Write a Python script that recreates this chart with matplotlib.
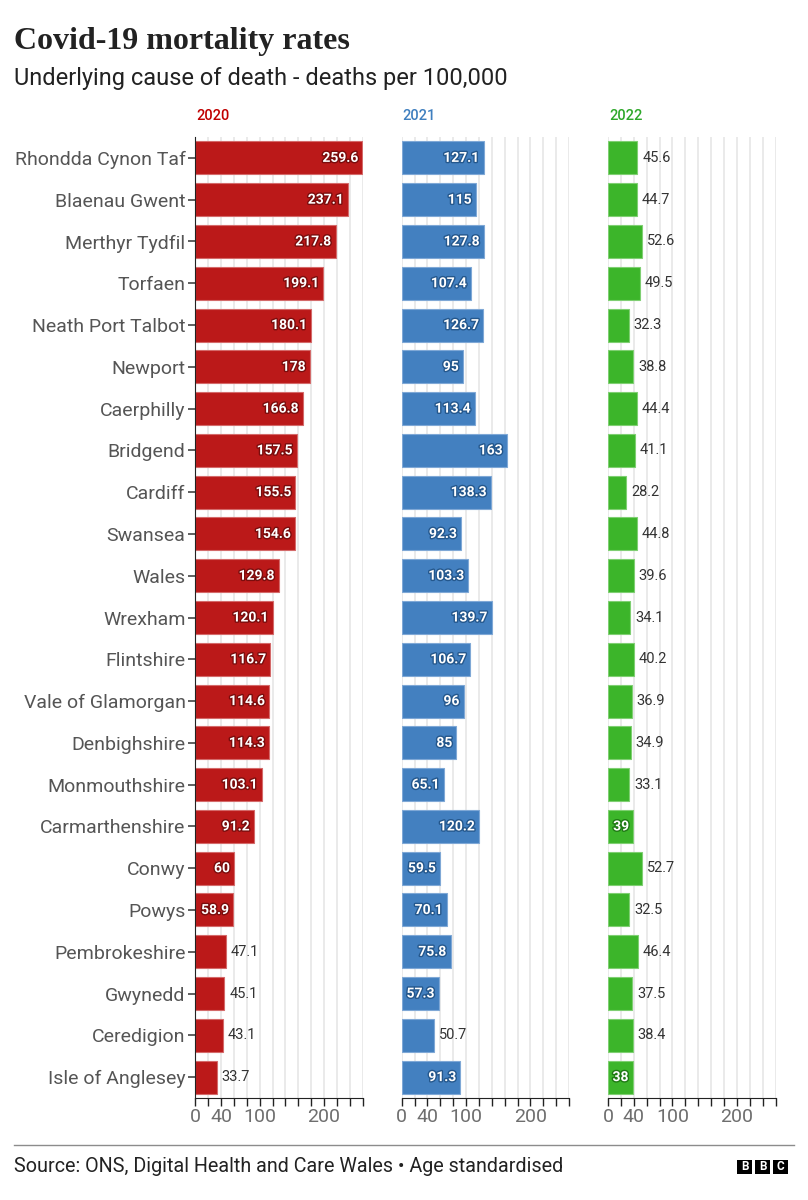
import matplotlib.pyplot as plt
import matplotlib.patheffects as pe
from matplotlib.patches import Rectangle
from matplotlib.lines import Line2D

# data
areas = ['Rhondda Cynon Taf', 'Blaenau Gwent', 'Merthyr Tydfil', 'Torfaen',
         'Neath Port Talbot', 'Newport', 'Caerphilly', 'Bridgend', 'Cardiff',
         'Swansea', 'Wales', 'Wrexham', 'Flintshire', 'Vale of Glamorgan',
         'Denbighshire', 'Monmouthshire', 'Carmarthenshire', 'Conwy', 'Powys',
         'Pembrokeshire', 'Gwynedd', 'Ceredigion', 'Isle of Anglesey']
rate_2020 = [259.6, 237.1, 217.8, 199.1, 180.1, 178, 166.8, 157.5, 155.5, 154.6,
             129.8, 120.1, 116.7, 114.6, 114.3, 103.1, 91.2, 60, 58.9, 47.1,
             45.1, 43.1, 33.7]
rate_2021 = [127.1, 115, 127.8, 107.4, 126.7, 95, 113.4, 163, 138.3, 92.3,
             103.3, 139.7, 106.7, 96, 85, 65.1, 120.2, 59.5, 70.1, 75.8,
             57.3, 50.7, 91.3]
rate_2022 = [45.6, 44.7, 52.6, 49.5, 32.3, 38.8, 44.4, 41.1, 28.2, 44.8,
             39.6, 34.1, 40.2, 36.9, 34.9, 33.1, 39, 52.7, 32.5, 46.4,
             37.5, 38.4, 38]
years = ['2020', '2021', '2022']
tick_vals = list(range(0, 261, 20))
tick_labels = ['0', '40', '100', '200']

series = [rate_2020, rate_2021, rate_2022]
bar_cols = ['#bb1919', '#4380c0', '#3cb52a']
edge_cols = ['#d46a6a', '#7fa8d6', '#7fcf72']
dark_cols = ['#7a0d0d', '#24578c', '#1f7a14']
year_cols = ['#c00000', '#3f7fbf', '#2ea82a']

SANS = ['Roboto', 'DejaVu Sans']
plt.rcParams['font.family'] = SANS

W, H = 808, 1200
fig = plt.figure(figsize=(W / 100, H / 100), dpi=100)


def fx(px):
    return px / W


def fy(py):
    return 1 - py / H


lefts = [195.3, 401.7, 608.1]
panel_w = 167.4
top, bottom = 137, 1098

fig.text(fx(14), fy(42), 'Covid-19 mortality rates', family=['Liberation Serif', 'DejaVu Serif'],
         fontsize=23, weight='bold', color='#222222', va='center', ha='left')
fig.text(fx(14), fy(78), 'Underlying cause of death - deaths per 100,000',
         fontsize=17, color='#222222', va='center', ha='left')

axes = []
for i in range(3):
    ax = fig.add_axes([fx(lefts[i]), fy(bottom), panel_w / W, (bottom - top) / H])
    axes.append(ax)
    vals = series[i]
    ax.barh(range(len(areas)), vals, height=0.79, color=bar_cols[i],
            edgecolor=edge_cols[i], linewidth=0.8, zorder=2)
    ax.set_xlim(0, 260)
    ax.set_ylim(len(areas) - 0.5, -0.5)
    ax.set_xticks(tick_vals)
    ax.set_xticklabels([str(v) if str(v) in tick_labels else '' for v in tick_vals])
    ax.set_axisbelow(True)
    ax.grid(axis='x', color='#e6e6e6', linewidth=1.2)
    for s in ['top', 'right']:
        ax.spines[s].set_visible(False)
    ax.spines['bottom'].set_color('#222222')
    ax.tick_params(axis='x', direction='out', length=6, width=1, color='#222222',
                   labelsize=14, labelcolor='#6e6e6e', pad=1.5)
    if i == 0:
        ax.spines['left'].set_color('#222222')
        ax.set_yticks(range(len(areas)))
        ax.set_yticklabels(areas)
        ax.tick_params(axis='y', length=5, width=1.2, color='#444444',
                       labelsize=14, labelcolor='#555555', pad=2)
    else:
        ax.spines['left'].set_visible(False)
        ax.set_yticks([])
    fig.text(fx(lefts[i] + 1), fy(116), years[i], fontsize=10.5, color=year_cols[i],
             va='center', ha='left', weight='medium')

# value labels: inside the bar when they fit, outside otherwise
renderer = fig.canvas.get_renderer()
for i, ax in enumerate(axes):
    vals = series[i]
    for j, v in enumerate(vals):
        lab = f'{v:g}'
        t = ax.annotate(lab, xy=(v, j), xytext=(-3, 0), textcoords='offset points',
                        ha='right', va='center', fontsize=10, weight='bold', color='white',
                        zorder=4,
                        path_effects=[pe.withStroke(linewidth=2, foreground=dark_cols[i])])
        tw = t.get_window_extent(renderer).width
        bw = ax.transData.transform((v, 0))[0] - ax.transData.transform((0, 0))[0]
        if tw + 7 > bw:
            t.remove()
            ax.annotate(lab, xy=(v, j), xytext=(3.5, 0), textcoords='offset points',
                        ha='left', va='center', fontsize=10.5, color='#333333', zorder=4)

fig.add_artist(Line2D([fx(14), fx(794)], [fy(1145), fy(1145)], color='#8c8c8c', linewidth=1))
fig.text(fx(14), fy(1167), 'Source: ONS, Digital Health and Care Wales \u2022 Age standardised',
         fontsize=14.2, color='#222222', va='center', ha='left')

for k, letter in enumerate('BBC'):
    x0 = 737 + k * 18
    fig.add_artist(Rectangle((fx(x0), fy(1174)), 15 / W, 14 / H, facecolor='black',
                             edgecolor='none', transform=fig.transFigure))
    fig.text(fx(x0 + 7.5), fy(1167), letter, fontsize=8.5, weight='bold', color='white',
             ha='center', va='center')

fig.savefig('out.png', dpi=100)
